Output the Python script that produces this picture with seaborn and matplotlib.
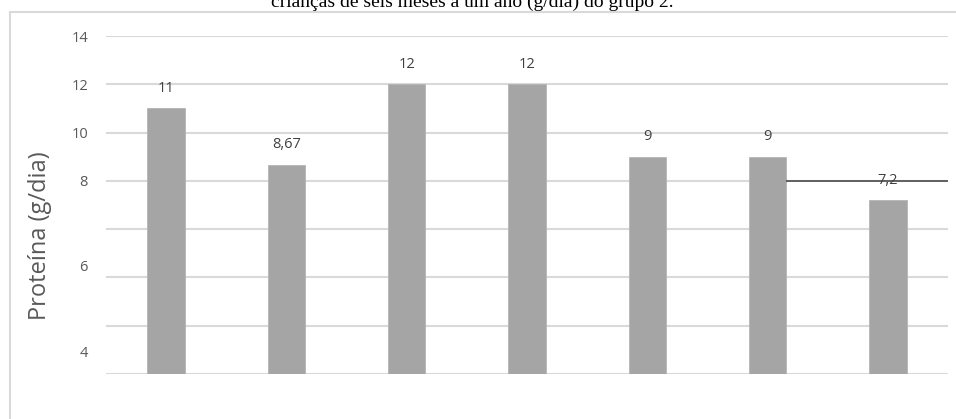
import matplotlib
matplotlib.use("Agg")
import matplotlib.pyplot as plt
from matplotlib.patches import Rectangle
import numpy as np
import pandas as pd
import seaborn as sns

# Protein intake per group of children (g/day)
categories = ["A", "B", "C", "D", "E", "F", "G"]
values = [11, 8.67, 12, 12, 9, 9, 7.2]
value_labels = ["11", "8,67", "12", "12", "9", "9", "7,2"]

# Y axis: gridlines every 2 units, labels as printed on the axis
grid_values = [0, 2, 4, 6, 8, 10, 12, 14]
ytick_positions = [0.95, 4.5, 8, 10, 12, 14]
ytick_labels = ["4", "6", "8", "10", "12", "14"]

# Reference level drawn on the right side of the chart
reference_value = 8

title = "crianças de seis meses a um ano (g/dia) do grupo 2."
ylabel = "Proteína (g/dia)"

sns.set_theme(style="white")
plt.rcParams["font.family"] = ["Open Sans", "DejaVu Sans"]

df = pd.DataFrame({"grupo": categories, "proteina": values})

fig = plt.figure(figsize=(9.56, 4.19), dpi=100)
ax = fig.add_axes([106 / 956, 45 / 419, 842 / 956, 338 / 419])

# light frame around the chart area
fig.patches.append(Rectangle((9.5 / 956, -0.1), 1.2, (419 - 12.5) / 419 + 0.1,
                             transform=fig.transFigure, fill=False,
                             edgecolor="#D9D9D9", linewidth=1.5))

for g in grid_values:
    ax.axhline(g, color="#D9D9D9", linewidth=1.5, zorder=0)

sns.barplot(data=df, x="grupo", y="proteina", color="#A5A5A5",
            width=0.31, saturation=1, edgecolor="#B5B5B5", linewidth=0.6,
            ax=ax, zorder=2)

for i, (v, lab) in enumerate(zip(values, value_labels)):
    ax.annotate(lab, (i, v), xytext=(0, 9), textcoords="offset points",
                ha="center", va="bottom", fontsize=10.5, color="#404040")

# reference line from the sixth bar to the end of the plot area
ax.plot([5 + 0.155, 6.5], [reference_value, reference_value],
        color="#404040", linewidth=1.1, zorder=3, solid_capstyle="butt")

ax.set_xlim(-0.5, 6.5)
ax.set_ylim(0, 14)
ax.set_yticks(ytick_positions)
ax.set_yticklabels(ytick_labels)
ax.tick_params(axis="y", length=0, pad=13, labelsize=10.5, labelcolor="#595959")
ax.set_xticks([])
ax.set_xlabel("")
ax.set_ylabel(ylabel, fontsize=17, color="#595959", va="center")
ax.yaxis.set_label_coords(-66 / 842, 0.408)
for s in ax.spines.values():
    s.set_visible(False)
ax.patch.set_alpha(0)

fig.text(472 / 956, 1 - 7 / 419, title, ha="center", va="baseline",
         fontsize=14, family=["Liberation Serif", "DejaVu Serif"], color="#000000")

fig.savefig("out.png", dpi=100)
